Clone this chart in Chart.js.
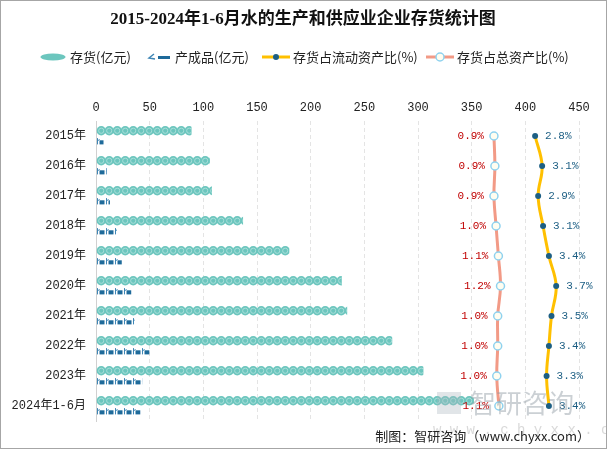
<!DOCTYPE html>
<html><head><meta charset="utf-8">
<script src="https://cdn.jsdelivr.net/npm/chart.js@4"></script>
<style>
html,body{margin:0;padding:0;background:#fff;}
canvas{display:block;}
</style></head><body>
<canvas id="c" width="607" height="449"></canvas>
<script>
const categories = ['2015年','2016年','2017年','2018年','2019年','2020年','2021年','2022年','2023年','2024年1-6月'];
const inventory = [89,106,108,137,180,229,234,276,305,352];
const finished = [7,10,13,19.5,24,33,36,50,43,41.5];
const totalRatio = [0.88,0.92,0.88,0.97,1.07,1.16,1.04,1.04,1.0,1.09];
const flowRatio = [2.8,3.1,2.93,3.14,3.39,3.7,3.5,3.39,3.29,3.39];
const xTickMax = 450;
const xTickStep = 50;

const MONO = "'Liberation Mono','Noto Sans CJK SC'";
const CJK = "'Noto Sans CJK SC','Liberation Mono'";

function drawCoinBar(ctx, el){
  const left = Math.min(el.base, el.x), right = Math.max(el.base, el.x);
  const h = el.height, cy = el.y, r = h/2;
  ctx.save();
  ctx.beginPath(); ctx.rect(left, cy - r - 1, right - left, h + 2); ctx.clip();
  for (let cx = left + r; cx - r < right; cx += 8){
    ctx.beginPath(); ctx.arc(cx, cy, r, 0, Math.PI*2);
    ctx.fillStyle = '#6cc6be'; ctx.fill();
    ctx.beginPath(); ctx.arc(cx, cy, r*0.55, 0, Math.PI*2);
    ctx.strokeStyle = '#a8ded9'; ctx.lineWidth = 1; ctx.stroke();
  }
  ctx.restore();
}
function drawIconBar(ctx, el){
  const left = Math.min(el.base, el.x), right = Math.max(el.base, el.x);
  const h = el.height, top = el.y - h/2;
  ctx.save();
  ctx.beginPath(); ctx.rect(left, top - 1, right - left, h + 2); ctx.clip();
  for (let x = left; x < right; x += 9){
    ctx.strokeStyle = '#3f86b5'; ctx.lineWidth = 1;
    ctx.beginPath(); ctx.moveTo(x+1, top); ctx.lineTo(x+1, top+h); ctx.stroke();
    ctx.beginPath(); ctx.moveTo(x+1, top+h*0.5); ctx.lineTo(x+3, top+1); ctx.stroke();
    ctx.fillStyle = '#1e6a9a';
    ctx.fillRect(x+3, top+h*0.35, 5, h*0.65);
  }
  ctx.restore();
}

const decor = {
  id: 'decor',
  beforeDraw(chart){
    const ctx = chart.ctx;
    ctx.save();
    ctx.fillStyle = '#fff'; ctx.fillRect(0,0,chart.width,chart.height);
    ctx.restore();
  },
  afterDatasetsDraw(chart){
    const ctx = chart.ctx;
    chart.getDatasetMeta(0).data.forEach(el => drawCoinBar(ctx, el));
    chart.getDatasetMeta(1).data.forEach(el => drawIconBar(ctx, el));
    // data labels
    ctx.save();
    ctx.font = "11px " + MONO;
    ctx.textBaseline = 'middle';
    chart.getDatasetMeta(2).data.forEach((p,i) => {
      ctx.fillStyle = '#c00000'; ctx.textAlign = 'right';
      ctx.fillText(totalRatio[i].toFixed(1) + '%', p.x - 10, p.y);
    });
    chart.getDatasetMeta(3).data.forEach((p,i) => {
      ctx.fillStyle = '#1d5f84'; ctx.textAlign = 'left';
      ctx.fillText(flowRatio[i].toFixed(1) + '%', p.x + 10, p.y);
    });
    ctx.restore();
  },
  afterDraw(chart){
    const ctx = chart.ctx;
    ctx.save();
    // title
    ctx.fillStyle = '#111';
    ctx.font = "bold 17px 'Liberation Serif','Noto Sans CJK SC'";
    ctx.textAlign = 'center'; ctx.textBaseline = 'middle';
    ctx.fillText('2015-2024年1-6月水的生产和供应业企业存货统计图', 303, 20);
    // legend
    const ly = 57;
    ctx.font = "13px " + CJK;
    ctx.textAlign = 'left'; ctx.fillStyle = '#222';
    ctx.beginPath(); ctx.ellipse(53, ly, 12.5, 3.5, 0, 0, Math.PI*2);
    ctx.fillStyle = '#6cc6be'; ctx.fill();
    ctx.fillStyle = '#222'; ctx.fillText('存货(亿元)', 70, ly);
    ctx.strokeStyle = '#3f86b5'; ctx.lineWidth = 1.5;
    ctx.beginPath(); ctx.moveTo(154, ly-3); ctx.lineTo(149, ly+1); ctx.lineTo(155, ly+2); ctx.stroke();
    ctx.fillStyle = '#1e6a9a'; ctx.fillRect(158, ly-1, 12, 3);
    ctx.fillStyle = '#222'; ctx.fillText('产成品(亿元)', 175, ly);
    ctx.strokeStyle = '#ffc000'; ctx.lineWidth = 3;
    ctx.beginPath(); ctx.moveTo(262, ly); ctx.lineTo(290, ly); ctx.stroke();
    ctx.beginPath(); ctx.arc(276, ly, 3, 0, Math.PI*2); ctx.fillStyle = '#1d5f84'; ctx.fill();
    ctx.fillStyle = '#222'; ctx.fillText('存货占流动资产比(%)', 293, ly);
    ctx.strokeStyle = '#f29a86'; ctx.lineWidth = 3;
    ctx.beginPath(); ctx.moveTo(426, ly); ctx.lineTo(454, ly); ctx.stroke();
    ctx.beginPath(); ctx.arc(440, ly, 4, 0, Math.PI*2); ctx.fillStyle = '#fffdf0'; ctx.fill();
    ctx.strokeStyle = '#8fd2ef'; ctx.lineWidth = 1.5; ctx.stroke();
    ctx.fillStyle = '#222'; ctx.fillText('存货占总资产比(%)', 457, ly);
    // watermark
    ctx.fillStyle = 'rgba(140,150,160,0.45)';
    ctx.font = "26px 'Noto Sans CJK SC'";
    ctx.fillText('智研咨询', 470, 403);
    ctx.fillStyle = 'rgba(170,180,190,0.35)';
    ctx.fillRect(437, 392, 24, 22);
    ctx.font = "14px 'Liberation Mono'";
    ctx.fillStyle = 'rgba(170,170,170,0.45)';
    ctx.fillText('w w w . c h y x x . c o m', 433, 430);
    // source
    ctx.fillStyle = '#222';
    ctx.font = "13px " + CJK;
    ctx.textAlign = 'right';
    ctx.fillText('制图：智研咨询（www.chyxx.com）', 590, 436);
    // frame
    ctx.strokeStyle = '#a6a6a6'; ctx.lineWidth = 1;
    ctx.strokeRect(0.5, 0.5, chart.width-1, chart.height-1);
    ctx.restore();
  }
};

new Chart(document.getElementById('c'), {
  data: {
    labels: categories,
    datasets: [
      { type:'bar', label:'存货(亿元)', data: inventory, xAxisID:'x', backgroundColor:'rgba(0,0,0,0)', barPercentage:0.9, categoryPercentage:0.7 },
      { type:'bar', label:'产成品(亿元)', data: finished, xAxisID:'x', backgroundColor:'rgba(0,0,0,0)', barPercentage:0.6, categoryPercentage:0.7 },
      { type:'line', label:'存货占总资产比(%)', data: totalRatio, xAxisID:'x3', borderColor:'#f29a86', borderWidth:3, tension:0.4,
        pointRadius:4, pointBackgroundColor:'#fffdf0', pointBorderColor:'#8fd2ef', pointBorderWidth:1.5 },
      { type:'line', label:'存货占流动资产比(%)', data: flowRatio, xAxisID:'x2', borderColor:'#ffc000', borderWidth:3, tension:0.4,
        pointRadius:3, pointBackgroundColor:'#1d5f84', pointBorderWidth:0 }
    ]
  },
  options: {
    indexAxis: 'y',
    responsive: false,
    animation: false,
    layout: { padding: { top: 96, right: 28, bottom: 28, left: 0 } },
    plugins: { legend: { display:false }, title: { display:false }, tooltip: { enabled:false } },
    scales: {
      x: {
        position:'top', min:0, max:xTickMax,
        ticks: { stepSize:xTickStep, color:'#222', padding:6, font:{ size:12, family:MONO } },
        grid: { color:'#e4e4e4', drawTicks:false },
        border: { display:false, dash:[4,3] },
        afterFit(s){ s.height = 25; }
      },
      x2: { display:false, min:-15.97, max:4.676 },
      x3: { display:false, min:-16.13, max:4.515 },
      y: {
        ticks: { color:'#222', padding:10, font:{ size:12, family:MONO } },
        grid: { display:false, drawTicks:false },
        border: { color:'#d0d0d0', width:1 },
        afterFit(s){ s.width = 96; }
      }
    }
  },
  plugins: [decor]
});
</script>
</body></html>
